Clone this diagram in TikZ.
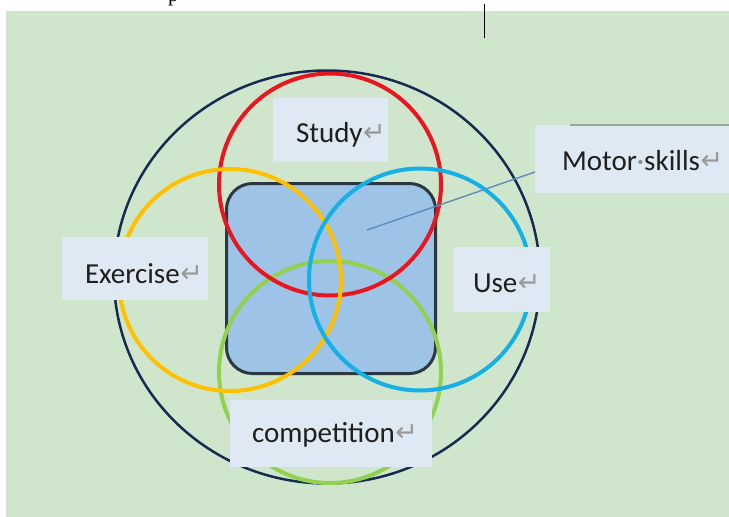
\documentclass[tikz,border=0pt]{standalone}
\usepackage{fontspec}
\setmainfont{Carlito}
\newfontfamily\dejavufam{DejaVu Sans}
\newfontfamily\serfam{Liberation Serif}
\definecolor{bggreen}{RGB}{208,230,204}
\definecolor{boxblue}{RGB}{222,233,244}
\definecolor{sqblue}{RGB}{157,195,230}
\definecolor{sqborder}{RGB}{45,55,65}
\definecolor{cred}{RGB}{232,22,30}
\definecolor{cyellow}{RGB}{255,192,0}
\definecolor{cblue}{RGB}{20,176,230}
\definecolor{cgreen}{RGB}{146,208,80}
\definecolor{cnavy}{RGB}{22,42,82}
\definecolor{linkblue}{RGB}{95,140,190}
\definecolor{edgegray}{RGB}{150,170,150}
\newcommand{\retmark}{\hspace{0.5pt}\raisebox{0.5pt}{\dejavufam\color{black!40}\fontsize{27}{27}\selectfont ↵}}
\usetikzlibrary{shapes.geometric}
\begin{document}
\begin{tikzpicture}[x=1pt,y=-1pt,
  ring/.style={circle,draw,line width=4pt,inner sep=0,outer sep=0,minimum size=222pt},
  lbox/.style={fill=boxblue,draw=none,inner sep=0,outer sep=0},
  ltext/.style={anchor=base west,inner sep=0,outer sep=0,text=black!88,font=\fontsize{29}{31}\selectfont},
  link/.style={draw=linkblue,line width=1.4pt}]
\useasboundingbox (0,0) rectangle (729,517);
% background
\fill[bggreen] (6,11) rectangle (729,517);
\begin{scope}
  \clip (0,0) rectangle (729,6);
  \node[anchor=base west,inner sep=0,font=\serfam\fontsize{21}{21}\selectfont] (topfrag) at (168,1) {p};
\end{scope}
\coordinate (cursortop) at (484,4);
\coordinate (cursorbot) at (484,38);
\draw[black,line width=1pt] (cursortop) -- (cursorbot);
% outer ring
\node[ellipse,draw=cnavy,line width=2.5pt,inner sep=0,outer sep=0,minimum width=426pt,minimum height=413pt] (outer) at (327,277) {};
% core
\node[draw=sqborder,line width=3pt,fill=sqblue,rounded corners=26pt,inner sep=0,minimum width=209pt,minimum height=190pt] (core) at (331,278.5) {};
% rings
\node[ring,draw=cgreen] (green) at (330,372) {};
\node[ring,draw=cred] (red) at (330,184.5) {};
\node[ring,draw=cyellow] (yellow) at (230,280) {};
\node[ring,draw=cblue] (blue) at (420,279.5) {};
% link line
\node[lbox,minimum width=194pt,minimum height=68pt] (motorbox) at (632,159) {};
\coordinate (motortop1) at (570,125);
\coordinate (motortop2) at (729,125);
\draw[edgegray,line width=1.5pt] (motortop1) -- (motortop2);
\coordinate (mtip) at (367,230);
\draw[link] ([yshift=-13pt]motorbox.west) -- (mtip);
% label boxes
\node[lbox,minimum width=115pt,minimum height=64pt] (studybox) at (330.5,130) {};
\node[lbox,minimum width=146pt,minimum height=63pt] (exbox) at (135,268.5) {};
\node[lbox,minimum width=97pt,minimum height=65pt] (usebox) at (501.5,279.5) {};
\node[lbox,minimum width=202pt,minimum height=67pt] (compbox) at (331,433.5) {};
% label texts
\node[ltext] (study) at (296,142) {Study\retmark};
\node[ltext] (motor) at (562,170) {Motor{\color{black!45}·}skills\retmark};
\node[ltext] (exercise) at (85,283) {Exercise\retmark};
\node[ltext] (use) at (473,292) {Use\retmark};
\node[ltext] (comp) at (252,442) {competition\retmark};
\end{tikzpicture}
\end{document}
